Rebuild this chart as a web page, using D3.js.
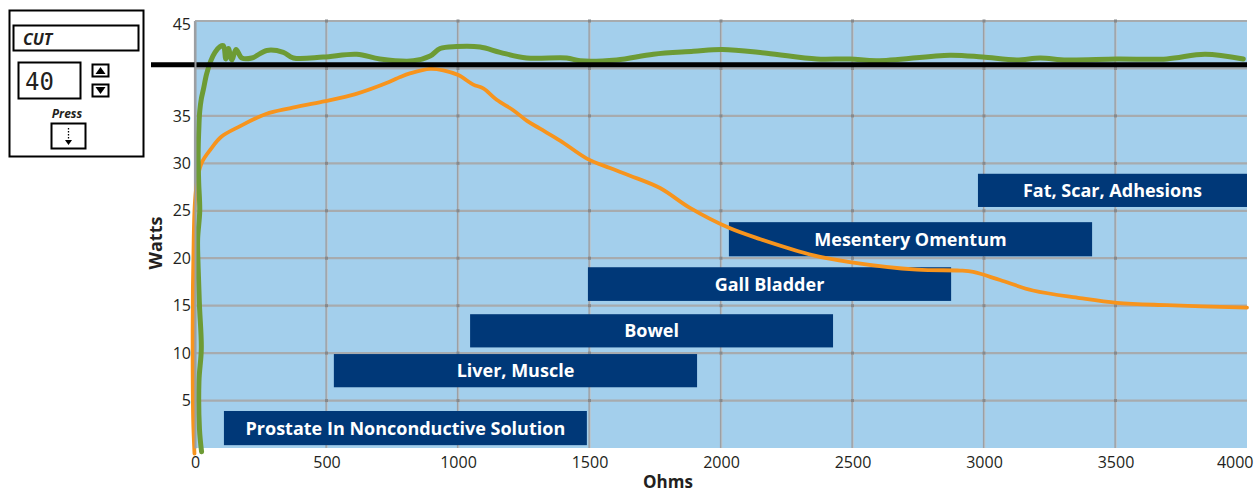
<!DOCTYPE html>
<html>
<head>
<meta charset="utf-8">
<script src="https://cdn.jsdelivr.net/npm/d3@7"></script>
<style>
  body { margin: 0; background: #fff; }
  text { font-family: "Open Sans", sans-serif; fill: #231f20; }
</style>
</head>
<body>
<div id="chart"></div>
<script>
// ohms / watts
var orangeCurve = [[-2,-0.6],[-7,3],[-9,10],[-8,17],[-5,22],[-2,25],[3,27],[12,28.8],[28,30.2],[60,31.5],[100,32.8],
    [170,33.9],[270,35.2],[360,35.8],[485,36.5],[610,37.3],[740,38.6],[780,39.1],[820,39.5],[894,39.95],[944,39.8],
    [1001,39.3],[1058,38.3],[1096,37.9],[1147,36.7],[1210,35.6],[1261,34.5],[1312,33.65],[1388,32.4],[1490,30.5],
    [1578,29.5],[1654,28.7],[1768,27.4],[1882,25.3],[2030,23.2],[2150,22.0],[2352,20.3],[2490,19.6],[2745,18.8],
    [2909,18.7],[2959,18.55],[3061,17.7],[3186,16.6],[3365,15.8],[3505,15.3],[3695,15.05],[4000,14.8]];

var greenCurve = [[25,-0.4],[17,2],[15,7],[24,10.5],[17,15],[12,19],[10,22],[18,25],[14,28],[12,31],[15,34],
    [18,35.5],[24,36.8],[32,37.8],[44,39.4],[60,40.8],[76,41.7],[95,42.3],[108,42.4],[117,41.0],[127,42.1],[140,40.9],
    [156,42.0],[178,41.1],[216,41.1],[273,41.9],[336,41.7],[374,41.1],[488,41.2],[615,41.5],[703,41.0],[830,40.8],
    [894,41.3],[932,42.1],[995,42.3],[1084,42.25],[1160,41.7],[1261,41.1],[1413,41.1],[1464,40.8],[1603,40.9],
    [1743,41.5],[1895,41.8],[2005,42.0],[2174,41.6],[2364,41.0],[2490,41.0],[2592,40.8],[2871,41.4],[2995,41.2],
    [3124,40.9],[3213,41.1],[3314,40.9],[3505,41.0],[3695,41.0],[3840,41.5],[3986,41.0]];

var setPower = 40.4;

var tissueNames = ["Prostate In Nonconductive Solution", "Liver, Muscle", "Bowel", "Gall Bladder",
    "Mesentery Omentum", "Fat, Scar, Adhesions"];
var tissueOhmsFrom = [110, 528, 1046, 1494, 2030, 2977];
var tissueOhmsTo   = [1490, 1909, 2426, 2875, 3411, 4000];
var tissueWattsLow  = [0.3, 6.4, 10.6, 15.5, 20.2, 25.4];
var tissueWattsHigh = [3.9, 9.9, 14.1, 19.05, 23.8, 28.9];

var xTicks = [0, 500, 1000, 1500, 2000, 2500, 3000, 3500, 4000];
var yTicks = [5, 10, 15, 20, 25, 30, 35, 45];
var yGrid = [5, 10, 15, 20, 25, 30, 35, 40, 45];

var W = 1256, H = 493;
var pl = {l: 195, r: 1247, t: 21, b: 448};

var svg = d3.select("#chart").append("svg").attr("width", W).attr("height", H);

var x = d3.scaleLinear().domain([0, 4000]).range([pl.l, pl.r]);
var y = d3.scaleLinear().domain([0, 45]).range([pl.b, pl.t]);

// plot background
svg.append("rect").attr("x", pl.l).attr("y", pl.t)
    .attr("width", pl.r - pl.l).attr("height", pl.b - pl.t)
    .attr("fill", "#a3cfec");

//-------------- grid
var grid = svg.append("g");
grid.selectAll(".vg").data(xTicks.slice(0, -1)).enter().append("line").attr("class", "vg")
    .attr("x1", function(d){return x(d)}).attr("x2", function(d){return x(d)})
    .attr("y1", pl.t).attr("y2", pl.b)
    .attr("stroke", "#9c9fa3").attr("stroke-width", 2.2);
grid.selectAll(".hg").data(yGrid).enter().append("line").attr("class", "hg")
    .attr("x1", pl.l).attr("x2", pl.r)
    .attr("y1", function(d){return y(d)}).attr("y2", function(d){return y(d)})
    .attr("stroke", "#a7abae").attr("stroke-width", 2.2);
// little light highlight on the lines
grid.selectAll(".vh").data(xTicks.slice(1, -1)).enter().append("line").attr("class", "vh")
    .attr("x1", function(d){return x(d) + 0.8}).attr("x2", function(d){return x(d) + 0.8})
    .attr("y1", pl.t).attr("y2", pl.b)
    .attr("stroke", "#c9d5de").attr("stroke-width", 0.7);
var crossings = [];
xTicks.slice(1, -1).forEach(function(a){ yGrid.forEach(function(b){ crossings.push([a, b]); }); });
grid.selectAll(".dot").data(crossings).enter().append("rect").attr("class", "dot")
    .attr("x", function(d){return x(d[0]) - 1.5}).attr("y", function(d){return y(d[1]) - 1.5})
    .attr("width", 3).attr("height", 3).attr("fill", "#86898c");

//-------------- tissue bands
var bands = svg.append("g").selectAll("g").data(tissueNames).enter().append("g");
bands.append("rect")
    .attr("x", function(d, i){return x(tissueOhmsFrom[i])})
    .attr("y", function(d, i){return y(tissueWattsHigh[i])})
    .attr("width", function(d, i){return x(tissueOhmsTo[i]) - x(tissueOhmsFrom[i])})
    .attr("height", function(d, i){return y(tissueWattsLow[i]) - y(tissueWattsHigh[i])})
    .attr("fill", "#003878");
bands.append("text").text(function(d){return d})
    .attr("x", function(d, i){return (x(tissueOhmsFrom[i]) + x(tissueOhmsTo[i])) / 2})
    .attr("y", function(d, i){return (y(tissueWattsLow[i]) + y(tissueWattsHigh[i])) / 2 + 6.5})
    .attr("text-anchor", "middle")
    .style("fill", "#fff").style("font-size", "18px").style("font-weight", 700);

//-------------- curves
var line = d3.line().x(function(d){return x(d[0])}).y(function(d){return y(d[1])})
    .curve(d3.curveCatmullRom.alpha(0.5));
svg.append("path").datum(orangeCurve).attr("d", line)
    .attr("fill", "none").attr("stroke", "#f7941d").attr("stroke-width", 3.8)
    .attr("stroke-linejoin", "round").attr("stroke-linecap", "round");
svg.append("path").datum(greenCurve).attr("d", line)
    .attr("fill", "none").attr("stroke", "#6d9b35").attr("stroke-width", 5)
    .attr("stroke-linejoin", "round").attr("stroke-linecap", "round");

// setting line
svg.append("line").attr("x1", 151).attr("x2", pl.r)
    .attr("y1", y(setPower)).attr("y2", y(setPower))
    .attr("stroke", "#000").attr("stroke-width", 5);

//-------------- axes
var yAxis = svg.append("g").attr("transform", "translate(" + pl.l + ",0)")
    .call(d3.axisLeft(y).tickValues(yTicks).tickSize(0).tickPadding(4));
yAxis.select(".domain").attr("stroke", "#9c9fa3").attr("stroke-width", 2);
yAxis.selectAll("text").style("font-size", "16px").style("font-family", "Open Sans").attr("fill", "#231f20")
    .attr("dy", function(d){return d === 45 ? "0.55em" : "0.32em"});

var xAxis = svg.append("g").attr("transform", "translate(0," + pl.b + ")")
    .call(d3.axisBottom(x).tickValues(xTicks).tickFormat(d3.format("d")).tickSize(0).tickPadding(9));
xAxis.select(".domain").remove();
xAxis.selectAll("text").style("font-size", "16px").style("font-family", "Open Sans").attr("fill", "#231f20")
    .attr("text-anchor", function(d){return d === 4000 ? "end" : "middle"})
    .attr("x", function(d){return d === 4000 ? 6 : 0});

svg.append("text").text("Ohms").attr("x", 668).attr("y", 488)
    .attr("text-anchor", "middle").style("font-size", "17px").style("font-weight", 700);
svg.append("text").text("Watts").attr("transform", "translate(162,243) rotate(-90)")
    .attr("text-anchor", "middle").style("font-size", "18px").style("font-weight", 700);

//-------------- generator panel
var p = svg.append("g").attr("fill", "none").attr("stroke", "#000");
p.append("rect").attr("x", 9.5).attr("y", 10.5).attr("width", 134).attr("height", 146).attr("stroke-width", 2);
p.append("rect").attr("x", 13.5).attr("y", 25.5).attr("width", 125).attr("height", 25).attr("stroke-width", 2);
p.append("rect").attr("x", 18.5).attr("y", 62.5).attr("width", 62).attr("height", 36).attr("stroke-width", 2);
p.append("rect").attr("x", 92.5).attr("y", 64.5).attr("width", 16).attr("height", 12).attr("stroke-width", 2);
p.append("rect").attr("x", 92.5).attr("y", 84.5).attr("width", 16).attr("height", 12).attr("stroke-width", 2);
p.append("rect").attr("x", 51.5).attr("y", 123.5).attr("width", 34).attr("height", 25).attr("stroke-width", 2);
p.append("path").attr("d", "M95.5,74L100.5,67L105.5,74Z").attr("fill", "#000").attr("stroke", "none");
p.append("path").attr("d", "M95.5,87L100.5,94L105.5,87Z").attr("fill", "#000").attr("stroke", "none");
p.append("line").attr("x1", 68.5).attr("x2", 68.5).attr("y1", 128).attr("y2", 141)
    .attr("stroke-width", 1.3).attr("stroke-dasharray", "1.5,1.5");
p.append("path").attr("d", "M65,140L68.5,145L72,140Z").attr("fill", "#000").attr("stroke", "none");

svg.append("text").text("CUT").attr("x", 23).attr("y", 45)
    .style("font-size", "16px").style("font-weight", 700).style("font-style", "italic");
svg.append("text").text("40").attr("x", 25).attr("y", 90)
    .style("font-family", "DejaVu Sans Mono").style("font-size", "24px");
svg.append("text").text("Press").attr("x", 67).attr("y", 118).attr("text-anchor", "middle")
    .style("font-size", "12px").style("font-weight", 700).style("font-style", "italic");
</script>
</body>
</html>
